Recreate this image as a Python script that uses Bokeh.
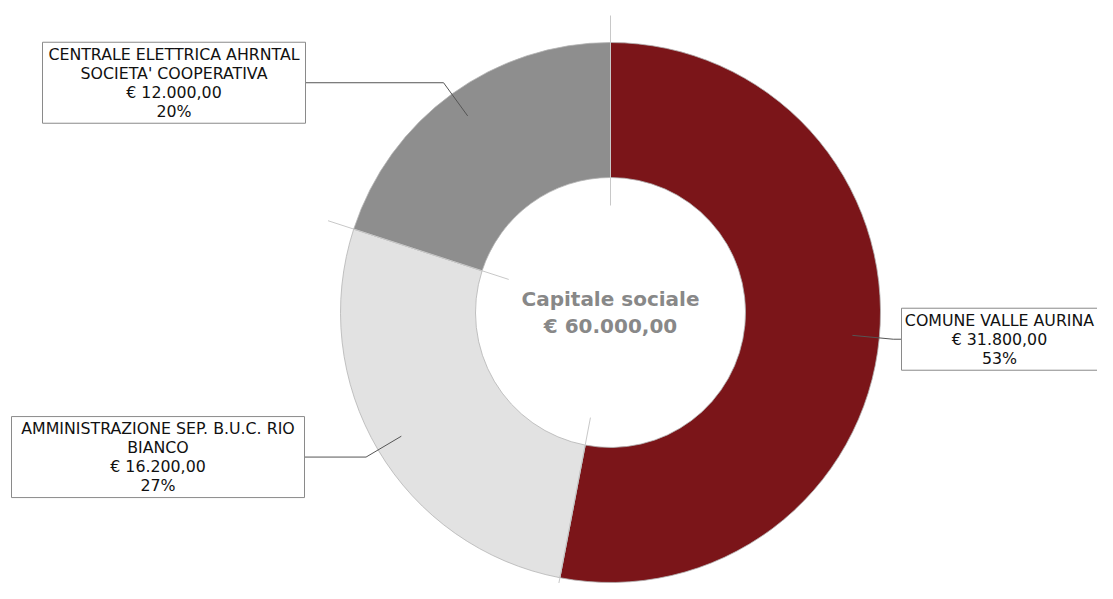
import numpy as np
from bokeh.plotting import figure
from bokeh.models import Range1d
from bokeh.core.properties import value
from bokeh.embed import file_html
from bokeh.resources import INLINE

# ---- data ----
names = ["COMUNE VALLE AURINA",
         "AMMINISTRAZIONE SEP. B.U.C. RIO\nBIANCO",
         "CENTRALE ELETTRICA AHRNTAL\nSOCIETA' COOPERATIVA"]
amounts = [31800.0, 16200.0, 12000.0]
colors = ["#7B1519", "#E2E2E2", "#8E8E8E"]
center_title = "Capitale sociale"

# ---- layout constants (pixels from the top-left of the chart) ----
W, H = 1097, 583
REF_H = 599
cx, cy = 610, REF_H - 312
r_out, r_in = 270, 135
# label boxes: x of the box edge that meets the leader, and box width
box_edge = [901, 304, 305]
box_width = [196, 293, 263]
FONT = "DejaVu Sans"
LSIZE = 15.8
LINE_PX = 19


def fmt_eur(v):
    s = f"{v:,.2f}"
    s = s.replace(",", "X").replace(".", ",").replace("X", ".")
    return "€ " + s


total = sum(amounts)
fr = np.array(amounts) / total
cum = np.concatenate([[0], np.cumsum(fr)])
# clockwise from top
start_ang = np.pi / 2 - 2 * np.pi * cum[1:]
end_ang = np.pi / 2 - 2 * np.pi * cum[:-1]

p = figure(width=W, height=H, output_backend="svg", toolbar_location=None,
           x_range=Range1d(0, W), y_range=Range1d(REF_H - H, REF_H),
           x_axis_type=None, y_axis_type=None, min_border=0,
           outline_line_color=None)
p.xgrid.visible = False
p.ygrid.visible = False
p.background_fill_color = "white"

# slices
p.annular_wedge(x=cx, y=cy, inner_radius=r_in, outer_radius=r_out,
                start_angle=start_ang, end_angle=end_ang,
                fill_color=colors, line_color="#b4b4b4", line_width=0.8)

# boundary rays
for a in end_ang:
    p.line([cx + 107 * np.cos(a), cx + 297 * np.cos(a)],
           [cy + 107 * np.sin(a), cy + 297 * np.sin(a)],
           line_color="#c8c8c8", line_width=1)

# labels
for i, (nm, v, f) in enumerate(zip(names, amounts, fr)):
    mid = (start_ang[i] + end_ang[i]) / 2
    x0, y0 = cx + 0.9 * r_out * np.cos(mid), cy + 0.9 * r_out * np.sin(mid)
    x1, y1 = cx + (r_out + 14) * np.cos(mid), cy + (r_out + 14) * np.sin(mid)
    right = np.cos(mid) > 0
    edge = box_edge[i]
    p.line([x0, x1, edge], [y0, y1, y1], line_color="#555555", line_width=1)
    txt = f"{nm}\n{fmt_eur(v)}\n{round(f * 100):d}%"
    nlines = txt.count("\n") + 1
    bh = nlines * LINE_PX + 5
    if right:
        left, rgt = edge, edge + box_width[i]
    else:
        left, rgt = edge - box_width[i], edge
    p.quad(left=left, right=rgt, top=y1 + bh / 2, bottom=y1 - bh / 2,
           fill_color="white", line_color="#8a8a8a", line_width=1)
    p.text(x=[(left + rgt) / 2], y=[y1], text=[txt], text_align="center",
           text_baseline="middle", text_font=value(FONT),
           text_font_size=f"{LSIZE}px", text_color="#111111",
           text_line_height=1.0)

# center text
p.text(x=[cx], y=[cy], text=[f"{center_title}\n{fmt_eur(total)}"],
       text_align="center", text_baseline="middle", text_font=value(FONT),
       text_font_style="bold", text_font_size="20px", text_color="#888888",
       text_line_height=1.1)

open("out.html", "w").write(file_html(p, INLINE))
